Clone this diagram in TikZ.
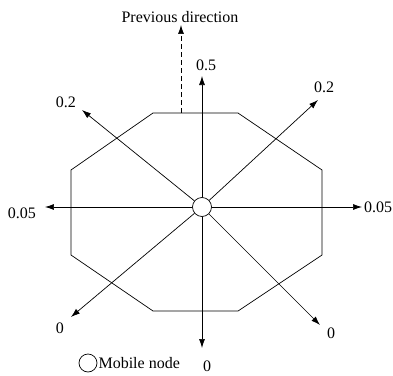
\documentclass[tikz,border=0pt]{standalone}
\usepackage{fontspec}
\setmainfont{Liberation Serif}
\usetikzlibrary{arrows.meta,calc}

\begin{document}
\begin{tikzpicture}[x=1pt,y=1pt,
    dir/.style={-{Latex[length=9pt,width=6pt]},line width=0.7pt},
    lbl/.style={font=\fontsize{16}{17}\selectfont,inner sep=0pt}]
    \useasboundingbox (-202,-168) rectangle (191,207);

    % Mobile node in the middle
    \node (M) at (0,0) [circle,draw,line width=0.7pt,minimum size=19pt,inner sep=0pt] {};

    % Define the corners of the octagon
    \coordinate (O1) at (-49,94);
    \coordinate (O2) at (36,94);
    \coordinate (O3) at (120,37);
    \coordinate (O4) at (120,-48);
    \coordinate (O5) at (36,-104);
    \coordinate (O6) at (-49,-104);
    \coordinate (O7) at (-131,-48);
    \coordinate (O8) at (-131,37);

    % Draw the octagon
    \draw[line width=0.7pt] (O1) -- (O2) -- (O3) -- (O4) -- (O5) -- (O6) -- (O7) -- (O8) -- cycle;

    % Define the arrow tips
    \coordinate (N) at (0,131);
    \coordinate (NE) at (116,107);
    \coordinate (NW) at (-120,97);
    \coordinate (W) at (-157,0);
    \coordinate (E) at (160,0);
    \coordinate (SW) at (-131,-110);
    \coordinate (SE) at (118,-118);
    \coordinate (S) at (0,-141);
    \coordinate (P0) at (-21,94);
    \coordinate (P1) at (-21,182);

    % Draw the arrows out of the node
    \draw[dir] (M) -- (N);
    \draw[dir] (M) -- (NE);
    \draw[dir] (M) -- (NW);
    \draw[dir] (M) -- (W);
    \draw[dir] (M) -- (E);
    \draw[dir] (M) -- (SW);
    \draw[dir] (M) -- (SE);
    \draw[dir] (M) -- (S);
    \draw[dir,dashed,dash pattern=on 5pt off 3pt] (P0) -- (P1);

    % Place the labels
    \node (lP) at (-22,190) [lbl] {Previous direction};
    \node (lN) at (4,142) [lbl] {0.5};
    \node (lNE) at (122,120) [lbl] {0.2};
    \node (lNW) at (-136,105) [lbl] {0.2};
    \node (lW) at (-180,-6) [lbl] {0.05};
    \node (lE) at (176,0) [lbl] {0.05};
    \node (lSW) at (-142,-121) [lbl] {0};
    \node (lSE) at (129,-126) [lbl] {0};
    \node (lS) at (5,-159) [lbl] {0};

    % Legend
    \node (key) at (-114,-156) [circle,draw,line width=0.7pt,minimum size=18pt,inner sep=0pt] {};
    \node (lkey) at (key.east) [lbl,anchor=west,xshift=1pt] {Mobile node};

\end{tikzpicture}
\end{document}
